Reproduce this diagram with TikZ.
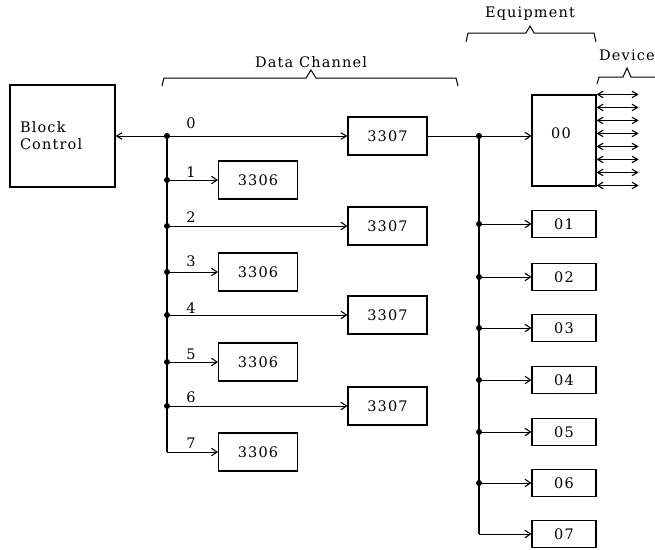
\documentclass[tikz,border=0pt]{standalone}
\usepackage{fontspec}
\setmainfont{DejaVu Serif}[LetterSpace=8]
\usetikzlibrary{arrows.meta}
\begin{document}
\begin{tikzpicture}[x=1pt,y=-1pt,
  every node/.style={font=\fontsize{14.5}{17}\selectfont},
  box/.style={draw,line width=1.1pt,inner sep=0pt},
  chbox/.style={box,minimum width=79pt,minimum height=38pt},
  eqbox/.style={box,minimum width=64pt,minimum height=27pt},
  lbl/.style={inner sep=0pt},
  conn/.style={line width=1pt},
  trunk/.style={line width=1.5pt},
  tip/.style={-{Straight Barb[length=5.5pt,width=7.5pt,line width=1.1pt]}},
  dtip/.style={{Straight Barb[length=5.5pt,width=6.5pt,line width=1.1pt]}-{Straight Barb[length=5.5pt,width=6.5pt,line width=1.1pt]}},
  dot/.style={circle,fill,inner sep=0pt,minimum size=6pt},
  brace/.style={line width=1pt,line join=miter}
]
\useasboundingbox (0,0) rectangle (655,549);

% Block control
\node[box,minimum width=105pt,minimum height=102pt,align=left,text width=85pt,inner xsep=10pt] (bc) at (62.5,136) {Block\\Control};

% Data channels
\node[chbox] (d0) at (387.5,136) {3307};
\node[chbox] (d1) at (258,180) {3306};
\node[chbox] (d2) at (387.5,226) {3307};
\node[chbox] (d3) at (258,272) {3306};
\node[chbox] (d4) at (387.5,315) {3307};
\node[chbox] (d5) at (258,362) {3306};
\node[chbox] (d6) at (387.5,406) {3307};
\node[chbox] (d7) at (258,452) {3306};

\coordinate (j0) at (167,136);
\coordinate (j1) at (167,180);
\coordinate (j2) at (167,226);
\coordinate (j3) at (167,272);
\coordinate (j4) at (167,315);
\coordinate (j5) at (167,362);
\coordinate (j6) at (167,406);
\coordinate (j7) at (167,452);

\draw[conn,dtip] (bc.east) -- (d0.west);
\draw[trunk] (j0) -- (j7);
\draw[conn,tip] (j7) -- (d7.west);
\foreach \i in {1,...,6} \draw[conn,tip] (j\i) -- (d\i.west);
\foreach \i in {0,...,6} \node[dot] at (j\i) {};

\node[lbl] (n0) at (191,123) {0};
\node[lbl] (n1) at (191,172) {1};
\node[lbl] (n2) at (191,217) {2};
\node[lbl] (n3) at (191,261) {3};
\node[lbl] (n4) at (191,308) {4};
\node[lbl] (n5) at (191,354) {5};
\node[lbl] (n6) at (191,397) {6};
\node[lbl] (n7) at (191,443) {7};

% Equipment
\node[box,minimum width=64pt,minimum height=91pt] (e0) at (564,140.5) {};
\node[lbl] (t00) at (561,133) {00};
\node[eqbox] (e1) at (564,224) {01};
\node[eqbox] (e2) at (564,277) {02};
\node[eqbox] (e3) at (564,328) {03};
\node[eqbox] (e4) at (564,380) {04};
\node[eqbox] (e5) at (564,432) {05};
\node[eqbox] (e6) at (564,483) {06};
\node[eqbox] (e7) at (564,534) {07};

\coordinate (k0) at (479,136);
\coordinate (k1) at (479,224);
\coordinate (k2) at (479,277);
\coordinate (k3) at (479,328);
\coordinate (k4) at (479,380);
\coordinate (k5) at (479,432);
\coordinate (k6) at (479,483);
\coordinate (k7) at (479,534);

\draw[conn] (d0.east) -- (k0);
\draw[conn,tip] (k0) -- (e0.west |- k0);
\draw[trunk] (k0) -- (k7);
\foreach \i in {1,...,7} \draw[conn,tip] (k\i) -- (e\i.west);
\foreach \i in {0,...,6} \node[dot] at (k\i) {};

% Devices
\foreach \i in {0,...,7}
  \draw[conn,dtip] ([yshift={-13pt*\i}]e0.north east) -- ++(42,0);

% Braces and titles
\draw[brace] (162,86) -- (164,78) -- (306,78) -- (311,70) -- (316,78) -- (456,78) -- (458,86);
\draw[brace] (466,42) -- (468,33) -- (526,33) -- (530,26) -- (534,33) -- (594,33) -- (596,42);
\draw[brace] (597,84) -- (599,77) -- (623,77) -- (627,68) -- (631,77) -- (662,77);
\node[lbl] (tdc) at (311,62) {Data Channel};
\node[lbl] (teq) at (530,14) {Equipment};
\node[lbl,anchor=west] (tdev) at (599,55) {Device};
\end{tikzpicture}
\end{document}
